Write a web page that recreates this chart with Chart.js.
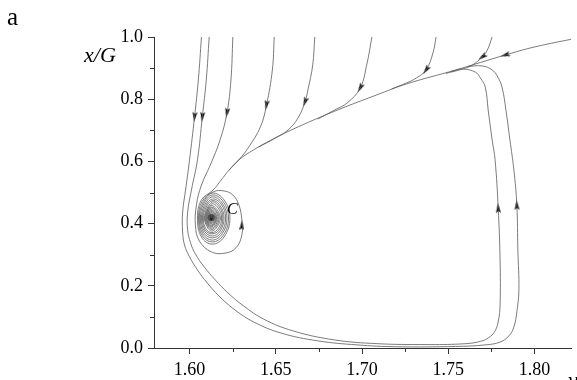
<!DOCTYPE html>
<html>
<head>
<meta charset="utf-8">
<script src="https://cdn.jsdelivr.net/npm/chart.js@4.4.0/dist/chart.umd.min.js"></script>
<style>
  html, body { margin: 0; padding: 0; background: #fff; }
</style>
</head>
<body>
<canvas id="phase" width="577" height="380"></canvas>
<script>
// axis ticks
const xTicks = [1.60, 1.65, 1.70, 1.75, 1.80];
const xMinor = [1.625, 1.675, 1.725, 1.775];
const yTicks = [0.0, 0.2, 0.4, 0.6, 0.8, 1.0];
const yMinor = [0.1, 0.3, 0.5, 0.7, 0.9];

// focus C
const focusPoint = [[1.6126, 0.420]];

// trajectories, [nu, x/G]
const mainCurve = [
  [1.825, 0.997], [1.800, 0.968], [1.7829, 0.942], [1.7543, 0.894], [1.7257, 0.849],
  [1.7086, 0.814], [1.6857, 0.765], [1.6629, 0.711], [1.6474, 0.669], [1.6371, 0.637],
  [1.6286, 0.605], [1.6229, 0.572], [1.6183, 0.540], [1.6137, 0.508],
  [1.6069, 0.476], [1.6046, 0.418], [1.6069, 0.357], [1.6132, 0.334], [1.6200, 0.357],
  [1.6234, 0.418], [1.6200, 0.476], [1.6132, 0.498],
  [1.6077, 0.466], [1.6057, 0.418], [1.6077, 0.367], [1.6132, 0.347], [1.6189, 0.367],
  [1.6217, 0.418], [1.6189, 0.466], [1.6132, 0.486],
  [1.6086, 0.458], [1.6069, 0.418], [1.6086, 0.376], [1.6132, 0.360], [1.6177, 0.376],
  [1.6200, 0.418], [1.6177, 0.458], [1.6132, 0.474],
  [1.6094, 0.450], [1.6080, 0.418], [1.6094, 0.384], [1.6129, 0.371], [1.6166, 0.384],
  [1.6186, 0.418], [1.6166, 0.450], [1.6129, 0.463],
  [1.6090, 0.418], [1.6129, 0.381], [1.6172, 0.418], [1.6129, 0.453],
  [1.6097, 0.418], [1.6126, 0.389], [1.6160, 0.418], [1.6126, 0.445],
  [1.6104, 0.418], [1.6126, 0.395], [1.6152, 0.418], [1.6126, 0.439],
  [1.6111, 0.418], [1.6126, 0.402], [1.6144, 0.418], [1.6126, 0.432],
  [1.6116, 0.418], [1.6126, 0.408], [1.6137, 0.418], [1.6126, 0.427], [1.6126, 0.418]
];
const outerLoop = [
  [1.6069, 1.000], [1.6051, 0.862], [1.6029, 0.743], [1.6000, 0.605], [1.5977, 0.508],
  [1.5960, 0.437], [1.5960, 0.373], [1.5971, 0.331], [1.6000, 0.293], [1.6046, 0.251],
  [1.6103, 0.209], [1.6171, 0.167], [1.6257, 0.125], [1.6371, 0.084], [1.6531, 0.048],
  [1.6743, 0.023], [1.6971, 0.010], [1.7200, 0.004], [1.7543, 0.005], [1.7714, 0.010],
  [1.7800, 0.019], [1.7851, 0.039], [1.7880, 0.068], [1.7897, 0.116], [1.7909, 0.186],
  [1.7903, 0.315], [1.7897, 0.460], [1.7880, 0.572], [1.7857, 0.669], [1.7834, 0.765],
  [1.7811, 0.839], [1.7783, 0.875], [1.7754, 0.894], [1.7697, 0.907], [1.7611, 0.905]
];
const innerLoop = [
  [1.6114, 1.000], [1.6097, 0.862], [1.6074, 0.743], [1.6046, 0.605], [1.6011, 0.508],
  [1.5989, 0.437], [1.5989, 0.379], [1.6006, 0.338], [1.6034, 0.302], [1.6086, 0.260],
  [1.6149, 0.219], [1.6223, 0.177], [1.6314, 0.135], [1.6429, 0.093], [1.6600, 0.055],
  [1.6840, 0.026], [1.7086, 0.014], [1.7371, 0.011], [1.7571, 0.013], [1.7669, 0.019],
  [1.7731, 0.032], [1.7771, 0.055], [1.7791, 0.090], [1.7800, 0.138], [1.7800, 0.283],
  [1.7789, 0.450], [1.7771, 0.605], [1.7754, 0.669], [1.7731, 0.765], [1.7714, 0.839],
  [1.7686, 0.868], [1.7657, 0.887], [1.7583, 0.897], [1.7514, 0.889]
];
const spiralCurve = [
  [1.6251, 1.000], [1.6240, 0.862], [1.6217, 0.756], [1.6177, 0.669], [1.6120, 0.588],
  [1.6069, 0.524], [1.6040, 0.460], [1.6034, 0.395], [1.6057, 0.344], [1.6126, 0.309],
  [1.6206, 0.305], [1.6269, 0.322], [1.6303, 0.363], [1.6303, 0.412], [1.6286, 0.460],
  [1.6251, 0.492], [1.6200, 0.505], [1.6137, 0.502],
  [1.6073, 0.471], [1.6052, 0.418], [1.6073, 0.362], [1.6132, 0.341], [1.6195, 0.362],
  [1.6226, 0.418], [1.6195, 0.471], [1.6132, 0.492],
  [1.6082, 0.463], [1.6063, 0.418], [1.6082, 0.371], [1.6132, 0.354], [1.6183, 0.371],
  [1.6209, 0.418], [1.6183, 0.463], [1.6132, 0.479],
  [1.6090, 0.454], [1.6075, 0.418], [1.6090, 0.380], [1.6130, 0.367], [1.6172, 0.380],
  [1.6193, 0.418], [1.6172, 0.454], [1.6130, 0.469],
  [1.6086, 0.418], [1.6129, 0.376], [1.6179, 0.418], [1.6129, 0.458],
  [1.6094, 0.418], [1.6128, 0.385], [1.6166, 0.418], [1.6128, 0.450],
  [1.6101, 0.418], [1.6126, 0.392], [1.6156, 0.418], [1.6126, 0.442],
  [1.6108, 0.418], [1.6126, 0.399], [1.6148, 0.418], [1.6126, 0.436],
  [1.6113, 0.418], [1.6126, 0.405], [1.6141, 0.418], [1.6126, 0.430], [1.6126, 0.418]
];
const topCurveD = [
  [1.6491, 1.000], [1.6480, 0.894], [1.6446, 0.781], [1.6411, 0.711], [1.6343, 0.646],
  [1.6286, 0.605], [1.6229, 0.572]
];
const topCurveE = [
  [1.6726, 1.000], [1.6714, 0.910], [1.6686, 0.830], [1.6669, 0.791], [1.6629, 0.740],
  [1.6571, 0.701], [1.6497, 0.675], [1.6400, 0.646]
];
const topCurveF = [
  [1.7057, 1.000], [1.7029, 0.916], [1.6989, 0.836], [1.6914, 0.788], [1.6840, 0.765],
  [1.6743, 0.736]
];
const topCurveG = [
  [1.7429, 1.000], [1.7411, 0.949], [1.7371, 0.894], [1.7314, 0.868], [1.7257, 0.852],
  [1.7171, 0.833]
];
const topCurveH = [
  [1.7754, 1.000], [1.7726, 0.958], [1.7697, 0.936], [1.7640, 0.910], [1.7583, 0.897],
  [1.7486, 0.883]
];

// arrow heads: position and direction (degrees, 0 = up, clockwise)
const arrowPoints = [
  [1.6029, 0.743], [1.6074, 0.743], [1.6217, 0.756], [1.6446, 0.781], [1.6669, 0.791],
  [1.6989, 0.836], [1.7371, 0.894], [1.7697, 0.936], [1.7829, 0.942], [1.7789, 0.450],
  [1.7897, 0.460], [1.6303, 0.395]
];
const arrowAngles = [186, 186, 189, 190, 200, 208, 215, 235, 253, 357, 357, 0];

const trajectories = [mainCurve, outerLoop, innerLoop, spiralCurve,
  topCurveD, topCurveE, topCurveF, topCurveG, topCurveH];

const toXY = arr => arr.map(p => ({ x: p[0], y: p[1] }));

// small elongated arrow head used as point style
const arrowImg = document.createElement('canvas');
arrowImg.width = 5;
arrowImg.height = 10;
(function () {
  const c = arrowImg.getContext('2d');
  c.fillStyle = '#111';
  c.beginPath();
  c.moveTo(2.5, 0);
  c.lineTo(5, 10);
  c.lineTo(2.5, 8);
  c.lineTo(0, 10);
  c.closePath();
  c.fill();
})();

const serif = '"Liberation Serif", "Times New Roman", serif';

const extras = {
  id: 'extras',
  afterDraw(chart) {
    const ctx = chart.ctx;
    const xs = chart.scales.x, ys = chart.scales.y;
    const area = chart.chartArea;
    ctx.save();
    ctx.strokeStyle = '#333';
    ctx.lineWidth = 1;
    ctx.beginPath();
    xMinor.forEach(v => {
      const px = Math.round(xs.getPixelForValue(v)) + 0.5;
      ctx.moveTo(px, area.bottom);
      ctx.lineTo(px, area.bottom + 4);
    });
    yMinor.forEach(v => {
      const py = Math.round(ys.getPixelForValue(v)) + 0.5;
      ctx.moveTo(area.left - 4, py);
      ctx.lineTo(area.left, py);
    });
    ctx.stroke();

    ctx.fillStyle = '#000';
    ctx.textBaseline = 'alphabetic';
    ctx.font = '25px ' + serif;
    ctx.fillText('a', 7, 25);
    ctx.font = 'italic 22px ' + serif;
    ctx.fillText('x/G', 84, 62);
    ctx.fillText('\u03bd', 568, 387);
    ctx.font = 'italic 16px ' + serif;
    ctx.fillText('C', 227, 214);
    ctx.restore();
  }
};

const datasets = trajectories.map(t => ({
  data: toXY(t),
  showLine: true,
  borderColor: '#5a5a5a',
  borderWidth: 0.8,
  tension: 0.4,
  pointRadius: 0,
  fill: false
}));
datasets.push({
  data: toXY(arrowPoints),
  showLine: false,
  pointStyle: arrowImg,
  pointRadius: 5,
  pointRotation: ctx => arrowAngles[ctx.dataIndex]
});
datasets.push({
  data: toXY(focusPoint),
  showLine: false,
  pointStyle: 'circle',
  pointRadius: 3.5,
  backgroundColor: '#1a1a1a',
  borderColor: '#1a1a1a',
  borderWidth: 0
});

new Chart(document.getElementById('phase').getContext('2d'), {
  type: 'scatter',
  data: { datasets: datasets },
  options: {
    responsive: false,
    animation: false,
    layout: { padding: { top: 37, right: 0, left: 0, bottom: 0 } },
    plugins: {
      legend: { display: false },
      tooltip: { enabled: false }
    },
    scales: {
      x: {
        type: 'linear',
        min: 1.5794,
        max: 1.8211,
        afterBuildTicks: axis => { axis.ticks = xTicks.map(v => ({ value: v })); },
        afterFit: axis => { axis.height = 32; },
        grid: { drawOnChartArea: false, tickLength: 6, tickColor: '#333' },
        border: { display: true, color: '#333', width: 1 },
        ticks: {
          color: '#000',
          padding: 5,
          maxRotation: 0,
          font: { family: serif, size: 18 },
          callback: v => v.toFixed(2)
        }
      },
      y: {
        type: 'linear',
        min: 0,
        max: 1,
        afterBuildTicks: axis => { axis.ticks = yTicks.map(v => ({ value: v })); },
        afterFit: axis => { axis.width = 154; },
        grid: { drawOnChartArea: false, tickLength: 6, tickColor: '#333' },
        border: { display: true, color: '#333', width: 1 },
        ticks: {
          color: '#000',
          padding: 5,
          font: { family: serif, size: 18 },
          callback: v => v.toFixed(1)
        }
      }
    }
  },
  plugins: [extras]
});
</script>
</body>
</html>
